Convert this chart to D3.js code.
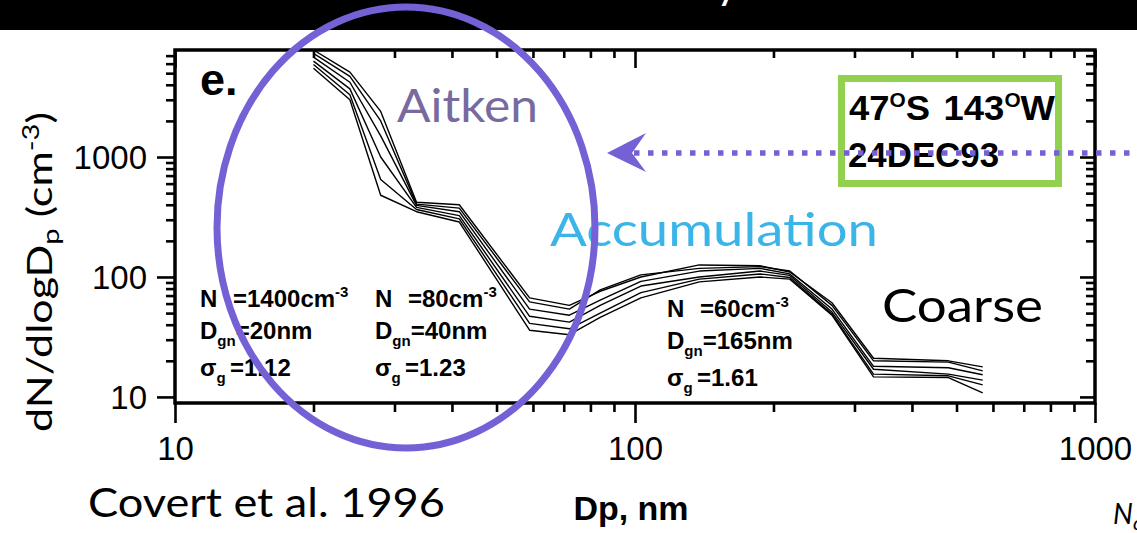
<!DOCTYPE html>
<html>
<head>
<meta charset="utf-8">
<script src="https://cdn.jsdelivr.net/npm/d3@7"></script>
<style>
body { margin: 0; background: #fff; }
svg { display: block; }
</style>
</head>
<body>
<script>
// particle diameter channels (nm)
var diam = [20, 24, 28, 33.5, 41.5, 59, 72, 84, 103, 138, 187, 217, 268, 330, 480, 570];
// six overlaid size spectra, dN/dlogDp (cm-3)
var spec1 = [7800, 5100, 2400, 420, 400, 67, 58, 76, 100, 126, 124, 110, 61, 21, 20, 17.8];
var spec2 = [7300, 4700, 2000, 405, 375, 62, 54, 78, 104, 118, 122, 112, 58, 20, 19.5, 16.5];
var spec3 = [6800, 4200, 1500, 395, 350, 54, 48, 64, 92, 112, 118, 106, 54, 18, 17.5, 15.3];
var spec4 = [6300, 3700, 1000, 380, 325, 47, 42, 58, 84, 100, 112, 103, 51, 17, 15.5, 13.8];
var spec5 = [5900, 3300, 650, 365, 305, 41, 37, 50, 74, 96, 106, 99, 49, 15.5, 15, 12.6];
var spec6 = [5500, 3000, 480, 350, 287, 36, 33, 46, 67, 91, 100, 96, 48, 14.7, 14.5, 10.8];
var allSpec = [spec1, spec2, spec3, spec4, spec5, spec6];

var xMajor = [10, 100, 1000];
var yMajor = [10, 100, 1000];

// fitted lognormal modes
var modeN = [1400, 80, 60];
var modeDgn = [20, 40, 165];
var modeSigma = ["1.12", "1.23", "1.61"];

var W = 1137, H = 533;
var purple = "#7660d6";

var svg = d3.select("body").append("svg")
    .attr("width", W)
    .attr("height", H);

svg.append("rect").attr("width", W).attr("height", H).attr("fill", "#fff");
// black title band, title itself is cut off
svg.append("rect").attr("width", W).attr("height", 30).attr("fill", "#000");
svg.append("text").attr("x", 716).attr("y", -2)
    .attr("font-family", "Lato, sans-serif").attr("font-size", 44)
    .attr("fill", "#fff").text("y");

var x = d3.scaleLog().domain([10, 1000]).range([175, 1095]);
var y = d3.scaleLog().domain([8.9, 7800]).range([403, 50]);

var xMinor = x.ticks().filter(function(d) { return xMajor.indexOf(d) < 0; });
var yMinor = y.ticks().filter(function(d) { return d >= 10 && yMajor.indexOf(d) < 0; });

function axis(gen, tr, vals, size, lab) {
    var g = svg.append("g")
        .attr("transform", tr)
        .call(gen.tickValues(vals).tickSize(size).tickFormat(lab ? d3.format("d") : ""));
    g.select(".domain").remove();
    g.selectAll("line").attr("stroke", "#000").attr("stroke-width", 2.6);
    g.selectAll("text")
        .attr("font-family", "'Liberation Sans', Arial, sans-serif")
        .attr("font-size", 33)
        .attr("fill", "#000");
    return g;
}

// bottom: outward ticks
axis(d3.axisBottom(x), "translate(0,403)", xMinor, 9, false);
var xb = axis(d3.axisBottom(x), "translate(0,403)", xMajor, 20, true);
xb.selectAll("text").attr("y", 57).attr("dy", null);
// top: inward ticks
axis(d3.axisTop(x), "translate(0,50)", xMinor, -8, false);
axis(d3.axisTop(x), "translate(0,50)", xMajor, -18, false);
// left: outward ticks
axis(d3.axisLeft(y), "translate(175,0)", yMinor, 9, false);
var yl = axis(d3.axisLeft(y), "translate(175,0)", yMajor, 18, true);
yl.selectAll("text").attr("x", -28).attr("dy", "0.34em");
// right: inward ticks
axis(d3.axisRight(y), "translate(1095,0)", yMinor, -9, false);
axis(d3.axisRight(y), "translate(1095,0)", yMajor, -15, false);

// frame
svg.append("rect")
    .attr("x", 175).attr("y", 50)
    .attr("width", 920).attr("height", 353)
    .attr("fill", "none").attr("stroke", "#000").attr("stroke-width", 3.5);

svg.append("clipPath").attr("id", "plotclip")
    .append("rect").attr("x", 175).attr("y", 50).attr("width", 920).attr("height", 353);

var line = d3.line()
    .x(function(d) { return x(d[0]); })
    .y(function(d) { return y(d[1]); });

svg.append("g").attr("clip-path", "url(#plotclip)")
    .selectAll("path")
    .data(allSpec)
    .enter()
    .append("path")
    .attr("d", function(s) { return line(s.map(function(v, i) { return [diam[i], v]; })); })
    .attr("fill", "none")
    .attr("stroke", "#000")
    .attr("stroke-width", 1.4)
    .attr("stroke-linejoin", "round");

// panel letter
svg.append("text").attr("x", 200).attr("y", 95)
    .attr("font-family", "'Liberation Sans', Arial, sans-serif")
    .attr("font-weight", "bold").attr("font-size", 45).text("e.");

// mode fit labels
var modeX = [200, 375, 667];
var modeY = [307, 307, 317];
modeN.forEach(function(n, i) {
    var x0 = modeX[i], yb = modeY[i];
    var g = svg.append("g")
        .attr("font-family", "'Liberation Sans', Arial, sans-serif")
        .attr("font-weight", "bold").attr("font-size", 24);
    var r1 = g.append("text").attr("x", x0).attr("y", yb);
    r1.append("tspan").text("N");
    r1.append("tspan").attr("x", x0 + 33).text("=" + n + "cm");
    r1.append("tspan").attr("dy", -10).attr("font-size", 15).text("-3");
    var r2 = g.append("text").attr("x", x0).attr("y", yb + 32);
    r2.append("tspan").text("D");
    r2.append("tspan").attr("dy", 7).attr("font-size", 15).text("gn");
    r2.append("tspan").attr("dy", -7).text("=" + modeDgn[i] + "nm");
    var r3 = g.append("text").attr("x", x0).attr("y", yb + 69);
    r3.append("tspan").text("σ");
    r3.append("tspan").attr("dy", 7).attr("font-size", 15).text("g");
    r3.append("tspan").attr("x", x0 + 30).attr("dy", -7).text("=" + modeSigma[i]);
});

// axis titles
svg.append("text")
    .attr("transform", "translate(52,272) rotate(-90)")
    .attr("text-anchor", "middle")
    .attr("font-family", "Lato, sans-serif").attr("font-size", 34)
    .attr("textLength", 320).attr("lengthAdjust", "spacingAndGlyphs")
    .call(function(t) {
        t.append("tspan").text("dN/dlogD");
        t.append("tspan").attr("dy", 7).attr("font-size", 23).text("p");
        t.append("tspan").attr("dy", -7).text(" (cm");
        t.append("tspan").attr("dy", -13).attr("font-size", 23).text("-3");
        t.append("tspan").attr("dy", 13).text(")");
    });

svg.append("text").attr("x", 631).attr("y", 520)
    .attr("text-anchor", "middle")
    .attr("font-family", "'Liberation Sans', Arial, sans-serif")
    .attr("font-weight", "bold").attr("font-size", 34).text("Dp, nm");

// slide annotations
function label(txt, x0, yb, size, len, col) {
    svg.append("text").attr("x", x0).attr("y", yb)
        .attr("font-family", "Lato, sans-serif").attr("font-size", size)
        .attr("textLength", len).attr("lengthAdjust", "spacingAndGlyphs")
        .attr("fill", col).text(txt);
}
label("Aitken", 397, 122, 46, 141, "#786a9e");
label("Accumulation", 550, 246, 46, 328, "#3bb5e8");
label("Coarse", 882, 322, 46, 161, "#000");
label("Covert et al. 1996", 88, 517, 40, 357, "#000");

svg.append("text").attr("x", 1113).attr("y", 524)
    .attr("font-family", "Lato, sans-serif").attr("font-style", "italic").attr("font-size", 28)
    .call(function(t) {
        t.append("tspan").text("N");
        t.append("tspan").attr("dy", 6).attr("font-size", 20).text("c");
    });

// location box
svg.append("rect")
    .attr("x", 841.5).attr("y", 78.5).attr("width", 217).attr("height", 105)
    .attr("fill", "none").attr("stroke", "#92d050").attr("stroke-width", 7);
var bx = svg.append("g")
    .attr("font-family", "'Liberation Sans', Arial, sans-serif")
    .attr("font-weight", "bold").attr("font-size", 35);
bx.append("text").attr("x", 849).attr("y", 120)
    .attr("textLength", 206).attr("lengthAdjust", "spacingAndGlyphs")
    .call(function(t) {
        t.append("tspan").text("47");
        t.append("tspan").attr("dy", -13).attr("font-size", 20).text("O");
        t.append("tspan").attr("dy", 13).text("S");
        t.append("tspan").attr("dx", 13).text("143");
        t.append("tspan").attr("dy", -13).attr("font-size", 20).text("O");
        t.append("tspan").attr("dy", 13).text("W");
    });
bx.append("text").attr("x", 848).attr("y", 167)
    .attr("textLength", 151).attr("lengthAdjust", "spacingAndGlyphs")
    .text("24DEC93");

// dotted arrow
svg.append("line")
    .attr("x1", 634).attr("y1", 153).attr("x2", W).attr("y2", 153)
    .attr("stroke", purple).attr("stroke-width", 5.5)
    .attr("stroke-dasharray", "5.5 8.5");
svg.append("path")
    .attr("d", "M607,153 L646,133 L632,153 L646,172 Z")
    .attr("fill", purple);

// circled Aitken region
svg.append("ellipse")
    .attr("cx", 406).attr("cy", 227.5)
    .attr("rx", 189).attr("ry", 220.5)
    .attr("fill", "none").attr("stroke", purple).attr("stroke-width", 7);
</script>
</body>
</html>
